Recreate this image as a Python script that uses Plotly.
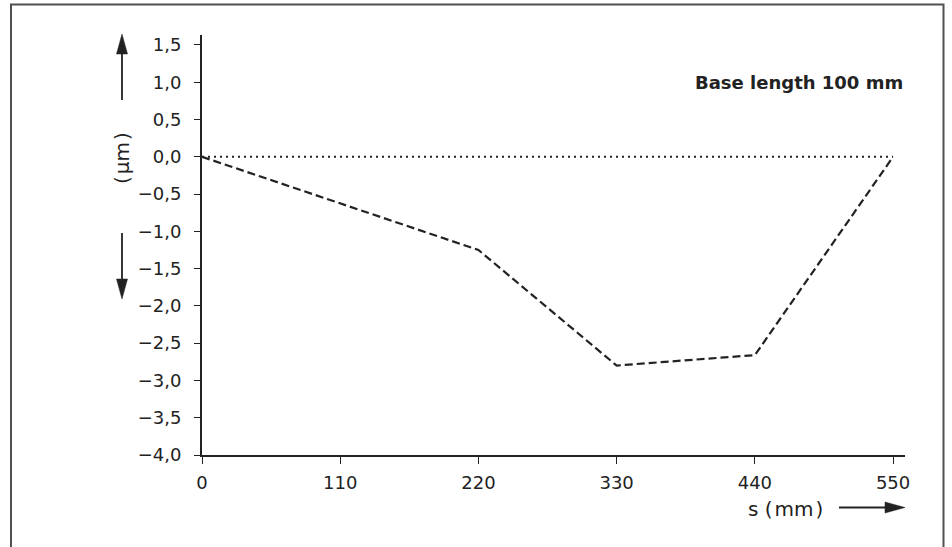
import math
import plotly.graph_objects as go

# Data
s_mm = [0, 220, 330, 440, 550]
deviation_um = [0.0, -1.25, -2.8, -2.66, 0.0]
ref_x = [0, 550]
ref_y = [0.0, 0.0]

x_tickvals = [0, 110, 220, 330, 440, 550]
x_ticktext = ["0", "110", "220", "330", "440", "550"]
y_tickvals = [1.5, 1.0, 0.5, 0.0, -0.5, -1.0, -1.5, -2.0, -2.5, -3.0, -3.5, -4.0]
y_ticktext = ["1,5", "1,0", "0,5", "0,0", "\u22120,5", "\u22121,0", "\u22121,5", "\u22122,0",
              "\u22122,5", "\u22123,0", "\u22123,5", "\u22124,0"]

INK = "#222222"
FONT = "DejaVu Sans"

# plot-area geometry in pixels (for decorative paper-space shapes)
L, T, R, B = 202, 35, 905, 455
PW, PH = R - L, B - T


def px(x):
    return (x - L) / PW


def py(y):
    return (B - y) / PH


def arrow(x0, y0, x1, y1, hl=20, hw=5.5):
    """shaft from (x0,y0) to tip (x1,y1) in pixels, as paper shapes"""
    dx, dy = x1 - x0, y1 - y0
    n = math.hypot(dx, dy)
    ux, uy = dx / n, dy / n
    bx, by = x1 - ux * hl, y1 - uy * hl
    nx, ny = -uy, ux
    pts = [(x1, y1), (bx + nx * hw, by + ny * hw), (bx - nx * hw, by - ny * hw)]
    path = "M " + " L ".join(f"{px(a):.5f},{py(b):.5f}" for a, b in pts) + " Z"
    return [
        dict(type="line", xref="paper", yref="paper", x0=px(x0), y0=py(y0),
             x1=px(bx + ux * 2), y1=py(by + uy * 2), line=dict(color=INK, width=1.8)),
        dict(type="path", xref="paper", yref="paper", path=path,
             fillcolor=INK, line=dict(color=INK, width=0.5)),
    ]


fig = go.Figure()
fig.add_trace(go.Scatter(x=ref_x, y=ref_y, mode="lines",
                         line=dict(color=INK, width=2, dash="2px,4px"),
                         hoverinfo="skip", showlegend=False))
fig.add_trace(go.Scatter(x=s_mm, y=deviation_um, mode="lines",
                         line=dict(color=INK, width=2.2, dash="8px,4px"),
                         showlegend=False))

shapes = [dict(type="rect", xref="paper", yref="paper",
               x0=px(11), x1=px(943.5), y0=py(600), y1=py(4.5),
               line=dict(color="#505050", width=2), fillcolor="rgba(0,0,0,0)")]
shapes += arrow(122, 100, 122, 34)
shapes += arrow(122, 233, 122, 299)
shapes += arrow(839, 507.5, 905, 507.5)

fig.update_layout(
    width=952, height=547,
    margin=dict(l=L, r=952 - R, t=T, b=547 - B),
    paper_bgcolor="white", plot_bgcolor="white",
    font=dict(family=FONT, size=18, color=INK),
    xaxis=dict(range=[0, 559.5], tickvals=x_tickvals, ticktext=x_ticktext,
               showgrid=False, zeroline=False, showline=True, linecolor=INK, linewidth=2,
               ticks="outside", ticklen=7, tickwidth=1.2, tickcolor=INK,
               ticklabelstandoff=3,
               tickfont=dict(family=FONT, size=18, color=INK)),
    yaxis=dict(range=[-4.0, 1.634], tickvals=y_tickvals, ticktext=y_ticktext,
               showgrid=False, zeroline=False, showline=True, linecolor=INK, linewidth=2,
               ticks="outside", ticklen=6, tickwidth=1.2, tickcolor=INK,
               ticklabelstandoff=9,
               tickfont=dict(family=FONT, size=18, color=INK)),
    shapes=shapes,
    annotations=[
        dict(text="<b>Base length 100 mm</b>", xref="paper", yref="paper",
             x=1.0, y=py(82), xanchor="right", yanchor="middle", showarrow=False,
             font=dict(family=FONT, size=18, color=INK)),
        dict(text="(\u200aµm\u200a)", xref="paper", yref="paper", x=px(122), y=py(158),
             textangle=-90, showarrow=False, xanchor="center", yanchor="middle",
             font=dict(family=FONT, size=20, color=INK)),
        dict(text="s (\u200amm\u200a)", xref="paper", yref="paper", x=px(785), y=py(509),
             showarrow=False, xanchor="center", yanchor="middle",
             font=dict(family=FONT, size=20, color=INK)),
    ],
)

fig.write_html("out.html", config={"displayModeBar": False},
               post_script="document.body.style.margin='0';")
